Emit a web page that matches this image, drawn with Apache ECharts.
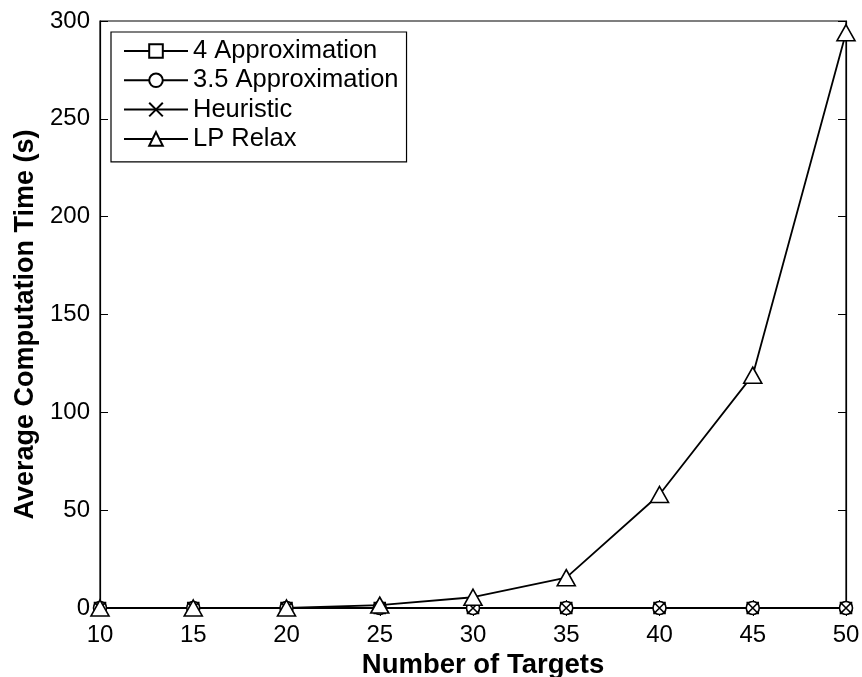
<!DOCTYPE html>
<html>
<head>
<meta charset="utf-8">
<script src="https://cdn.jsdelivr.net/npm/echarts@6/dist/echarts.min.js"></script>
<style>
  html, body { margin: 0; padding: 0; background: #fff; }
  #chart { width: 862px; height: 677px; }
</style>
</head>
<body>
<div id="chart"></div>
<script>
// Number of targets on the x axis
const targets = [10, 15, 20, 25, 30, 35, 40, 45, 50];

// Average computation time in seconds for each method
const approx4 = [0, 0, 0, 0, 0, 0, 0, 0, 0];
const approx35 = [0, 0, 0, 0, 0, 0, 0, 0, 0];
const heuristic = [0, 0, 0, 0, 0, 0, 0, 0, 0];
const lpRelax = [0, 0, 0, 1.5, 5.5, 15.5, 58, 119, 294];

const seriesNames = ['4 Approximation', '3.5 Approximation', 'Heuristic', 'LP Relax'];

const FONT = '"Liberation Sans", Arial, Helvetica, sans-serif';
const crossPath = 'path://M0,0L10,10M10,0L0,10';

function pairs(values) {
  return targets.map((t, i) => [t, values[i]]);
}

function lineSeries(name, values, symbol, size) {
  return {
    name: name,
    type: 'line',
    data: pairs(values),
    symbol: symbol,
    symbolSize: size,
    showAllSymbol: true,
    lineStyle: { color: '#000', width: 1.8 },
    itemStyle: { color: '#fff', borderColor: '#000', borderWidth: 1.6 },
    emphasis: { disabled: true },
    animation: false
  };
}

const chart = echarts.init(document.getElementById('chart'), null, { renderer: 'canvas' });

const option = {
  backgroundColor: '#fff',
  animation: false,
  grid: {
    left: 100, right: 16, top: 21, bottom: 69,
    show: true, borderColor: '#000', borderWidth: 1.2,
    containLabel: false,
    outerBoundsMode: 'none'
  },
  legend: {
    orient: 'vertical',
    left: 111, top: 32,
    padding: [6, 8, 10, 12],
    itemWidth: 64, itemHeight: 17, itemGap: 3.3,
    borderColor: '#000', borderWidth: 1.2,
    backgroundColor: '#fff',
    textStyle: { fontFamily: FONT, fontSize: 25.5, lineHeight: 25, color: '#000' },
    data: seriesNames
  },
  xAxis: [
    {
      type: 'value', min: 10, max: 50, interval: 5,
      name: 'Number of Targets', nameLocation: 'middle', nameGap: 34,
      nameTextStyle: {
        fontFamily: FONT, fontSize: 27.5, fontWeight: 'bold', color: '#000',
        padding: [0, 0, 0, 20]
      },
      axisLine: { show: true, lineStyle: { color: '#000', width: 1.2 } },
      axisTick: { show: true, inside: true, length: 8, lineStyle: { color: '#000' } },
      axisLabel: { fontFamily: FONT, fontSize: 24, color: '#000', margin: 15 },
      splitLine: { show: false }
    },
    {
      type: 'value', min: 10, max: 50, interval: 5, position: 'top',
      axisLine: { show: true, lineStyle: { color: '#000', width: 1.2 } },
      axisTick: { show: true, inside: true, length: 8, lineStyle: { color: '#000' } },
      axisLabel: { show: false },
      splitLine: { show: false }
    }
  ],
  yAxis: [
    {
      type: 'value', min: 0, max: 300, interval: 50,
      name: 'Average Computation Time (s)', nameLocation: 'middle', nameGap: 60,
      nameTextStyle: {
        fontFamily: FONT, fontSize: 27, fontWeight: 'bold', color: '#000',
        padding: [0, 20, 0, 0]
      },
      axisLine: { show: true, lineStyle: { color: '#000', width: 1.2 } },
      axisTick: { show: true, inside: true, length: 8, lineStyle: { color: '#000' } },
      axisLabel: { fontFamily: FONT, fontSize: 24, color: '#000', margin: 10 },
      splitLine: { show: false }
    },
    {
      type: 'value', min: 0, max: 300, interval: 50, position: 'right',
      axisLine: { show: true, lineStyle: { color: '#000', width: 1.2 } },
      axisTick: { show: true, inside: true, length: 8, lineStyle: { color: '#000' } },
      axisLabel: { show: false },
      splitLine: { show: false }
    }
  ],
  series: [
    lineSeries(seriesNames[0], approx4, 'rect', 11),
    lineSeries(seriesNames[1], approx35, 'circle', 13),
    lineSeries(seriesNames[2], heuristic, crossPath, 9),
    lineSeries(seriesNames[3], lpRelax, 'triangle', [18, 16])
  ]
};

chart.setOption(option);
</script>
</body>
</html>
